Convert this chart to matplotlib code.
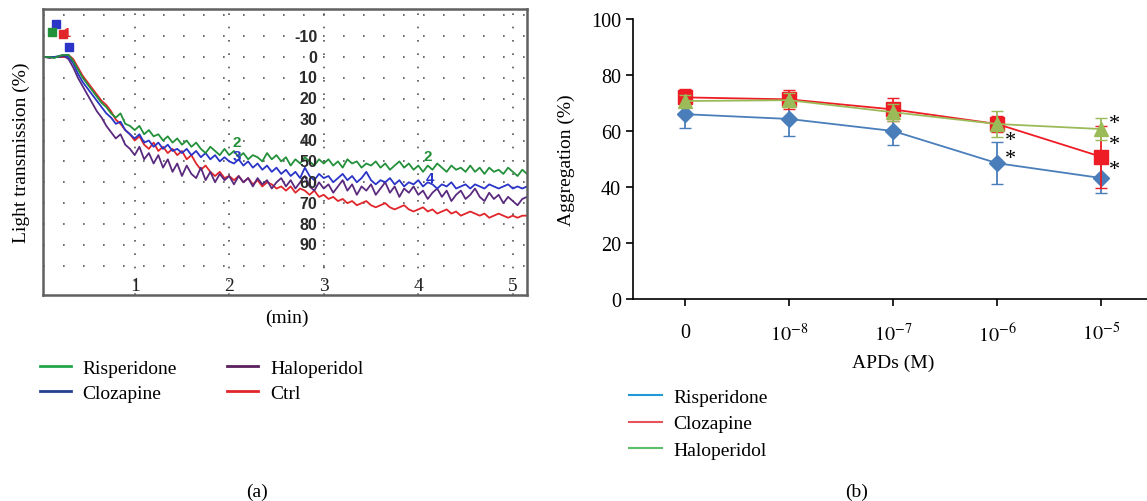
import numpy as np
import matplotlib
matplotlib.use('Agg')
import matplotlib.pyplot as plt
from matplotlib.lines import Line2D

plt.rcParams['font.family'] = 'Liberation Serif'
plt.rcParams['mathtext.fontset'] = 'stix'

# ---- panel (a): aggregometer traces, light transmission (%) vs time (min)
t_min = np.round(np.arange(0.05, 5.151, 0.05), 2)

risperidone_trace = [
    0, 0, 0.5, -0.5, -1, -1, 2, 6, 10, 13,
    16, 19, 22, 24, 27, 29, 27, 32, 33, 35,
    33, 37, 35, 38, 37, 40, 38, 41, 39, 42,
    40, 43, 41, 44, 46, 43, 45, 47, 44, 47,
    45, 48, 46, 49, 47, 48, 50, 46, 49, 47,
    50, 48, 52, 49, 51, 48, 50, 52, 49, 51,
    49, 52, 50, 53, 49, 51, 50, 53, 51, 52,
    50, 53, 51, 54, 52, 50, 53, 51, 54, 52,
    55, 52, 54, 51, 53, 55, 52, 54, 53, 55,
    52, 55, 53, 56, 53, 55, 54, 56, 53, 55,
    57, 54, 56]
clozapine_trace = [
    0, 0, 0, -0.5, -1, 0, 3, 8, 12, 15,
    18, 21, 24, 27, 29, 32, 31, 35, 37, 39,
    37, 41, 40, 43, 41, 44, 42, 45, 44, 46,
    44, 47, 45, 48, 46, 49, 47, 50, 48, 50,
    51, 49, 52, 50, 53, 51, 54, 52, 55, 53,
    56, 54, 57, 55, 58, 53, 57, 59, 56, 58,
    57, 60, 58, 56, 59, 57, 60, 58, 55, 59,
    61, 59, 60, 58, 61, 59, 62, 60, 61, 59,
    62, 60, 61, 63, 61, 62, 60, 63, 62, 61,
    63, 61, 62, 63, 61, 62, 63, 62, 61, 63,
    62, 63, 62]
haloperidol_trace = [
    0, 0.5, 0, 0, -0.5, 1, 5, 10, 14, 18,
    22, 26, 29, 33, 36, 39, 37, 42, 44, 47,
    43, 49, 46, 51, 47, 53, 49, 55, 51, 57,
    52, 56, 58, 53, 59, 55, 60, 56, 59, 57,
    61, 57, 60, 58, 62, 58, 61, 59, 63, 60,
    58, 62, 59, 63, 60, 57, 62, 64, 60, 63,
    61, 65, 62, 59, 64, 61, 66, 62, 64, 61,
    66, 63, 60, 65, 62, 67, 63, 65, 62, 66,
    64, 68, 65, 63, 67, 64, 69, 66, 64, 68,
    66, 63, 67, 69, 65, 68, 66, 70, 67, 69,
    71, 68, 67]
ctrl_trace = [
    0, 0, 0, 0, 0, -1, 1, 5, 9, 12,
    15, 18, 21, 23, 26, 30, 32, 35, 37, 40,
    38, 42, 44, 41, 45, 43, 46, 44, 47, 45,
    49, 47, 51, 54, 52, 55, 57, 55, 58, 57,
    59, 57, 60, 58, 61, 59, 62, 60, 61, 63,
    62, 64, 62, 65, 63, 64, 66, 64, 67, 66,
    68, 67, 69, 68, 70, 69, 71, 70, 69, 71,
    72, 71, 70, 72, 73, 72, 71, 73, 74, 73,
    72, 74, 73, 75, 74, 73, 75, 74, 76, 75,
    74, 75, 76, 75, 77, 76, 75, 76, 77, 76,
    77, 76, 76]

trace_names = ['Risperidone', 'Clozapine', 'Haloperidol', 'Ctrl']
trace_colors = ['#23903a', '#2a35c8', '#5a2a7e', '#e0262b']
legend_a_colors = ['#22a64a', '#24418f', '#5b1f5e', '#e0262b']

# start-of-run markers (time, transmission)
start_marks_t = [0.17, 0.12, 0.24, 0.31]
start_marks_v = [-16, -12, -11, -5]
start_marks_c = ['#2a35c8', '#23903a', '#e0262b', '#2a35c8']

# trace number labels (time, transmission, text, colour)
trace_tags = [(2.08, 40.5, '2', '#23903a'), (2.08, 47.5, '3', '#2a35c8'),
              (4.1, 47.5, '2', '#23903a'), (4.12, 58, '4', '#2a35c8')]

scale_ticks = [-10, 0, 10, 20, 30, 40, 50, 60, 70, 80, 90]
minute_ticks = [1, 2, 3, 4, 5]

# ---- panel (b): aggregation (%) vs APD concentration
conc_labels = ['0', r'$10^{-8}$', r'$10^{-7}$', r'$10^{-6}$', r'$10^{-5}$']
ris_mean = [66, 64.3, 60, 48.5, 43.2]
ris_err = [5, 6, 5, 7.6, 5.4]
clo_mean = [72, 71.3, 67.7, 62.5, 50.8]
clo_err = [3, 3.5, 4, 3, 11]
hal_mean = [70.7, 71, 66.7, 62.5, 60.7]
hal_err = [2, 2.5, 3, 4.5, 4]

fig = plt.figure(figsize=(11.47, 5.02), dpi=100)

# ----------------- (a)
ax1 = fig.add_axes([43 / 1147, 206 / 502, 484 / 1147, 286 / 502])
for name, vals, col in [('Ctrl', ctrl_trace, trace_colors[3]),
                        ('Haloperidol', haloperidol_trace, trace_colors[2]),
                        ('Clozapine', clozapine_trace, trace_colors[1]),
                        ('Risperidone', risperidone_trace, trace_colors[0])]:
    ax1.plot(t_min, vals, color=col, lw=1.3)
for tt, vv, cc in zip(start_marks_t, start_marks_v, start_marks_c):
    ax1.plot(tt, vv, 's', color=cc, ms=6)
ax1.text(0.28, -11.5, '1', color='#e0262b', fontsize=9, fontweight='bold',
         family='Liberation Sans', ha='center', va='center')
for tt, vv, s, cc in trace_tags:
    ax1.text(tt, vv, s, color=cc, fontsize=11, fontweight='bold',
             family='Liberation Sans', ha='center', va='center')

ax1.set_xlim(0.03, 5.15)
ax1.set_ylim(114, -23)
ax1.set_xticks(minute_ticks)
ax1.set_yticks(list(range(-20, 101, 10)))
ax1.tick_params(length=0, labelbottom=False, labelleft=False)
ax1.grid(True, axis='y', color='#555555', lw=1.2, linestyle=(0, (1, 11)))
ax1.grid(True, axis='x', color='#555555', lw=1.2, linestyle=(0, (1, 7)))
for v in scale_ticks:
    ax1.text(2.93, v, str(v), fontsize=11.5, fontweight='bold', color='#2a2a2a',
             family='Liberation Sans', ha='right', va='center')
for m in minute_ticks:
    ax1.text(m, 109.5, str(m), fontsize=14, ha='center', va='center', color='#222222')
for sp in ax1.spines.values():
    sp.set_color('#606060')
    sp.set_linewidth(1.8)
ax1.set_ylabel('Light transmission (%)', fontsize=14)
ax1.yaxis.set_label_coords(-13 / 484, 0.5)
fig.text(287 / 1147, 1 - 318 / 502, '(min)', fontsize=14, ha='center', va='center')

handles_a = [Line2D([], [], color=c, lw=2) for c in legend_a_colors]
fig.legend(handles_a, trace_names, ncol=2, frameon=False, fontsize=14,
           loc='upper left', bbox_to_anchor=(22 / 1147, 1 - 343 / 502),
           handlelength=1.6, handletextpad=0.6, columnspacing=2.6,
           labelspacing=0.35)
fig.text(257 / 1147, 1 - 492 / 502, '(a)', fontsize=14, ha='center', va='center')

# ----------------- (b)
ax2 = fig.add_axes([633 / 1147, 202 / 502, 514 / 1147, 280 / 502])
xi = np.arange(len(conc_labels))
ax2.errorbar(xi, ris_mean, yerr=ris_err, color='#4a7ebb', marker='D', ms=8,
             lw=1.3, capsize=4, elinewidth=1.3, zorder=3)
ax2.errorbar(xi, clo_mean, yerr=clo_err, color='#ee1c24', marker='s', ms=10,
             lw=1.3, capsize=4, elinewidth=1.3, zorder=4)
ax2.errorbar(xi, hal_mean, yerr=hal_err, color='#9bbb59', marker='^', ms=10,
             lw=1.3, capsize=4, elinewidth=1.3, zorder=5)

# significance asterisks, offset (points) from the data points
stars = [(3, clo_mean[3], -12), (3, ris_mean[3], 3.5),
         (4, hal_mean[4], 4), (4, clo_mean[4], 8.5), (4, ris_mean[4], 6.5)]
for i, v, dy in stars:
    ax2.annotate('*', (i, v), xytext=(9.5, dy), textcoords='offset points',
                 fontsize=16, ha='center', va='center')

ax2.set_xlim(-0.5, 4.44)
ax2.set_ylim(0, 100)
ax2.set_yticks([0, 20, 40, 60, 80, 100])
ax2.set_xticks(xi)
ax2.set_xticklabels(conc_labels)
ax2.tick_params(direction='out', length=5, width=1.2, labelsize=14.5)
ax2.tick_params(axis='x', pad=12)
ax2.spines['top'].set_visible(False)
ax2.spines['right'].set_visible(False)
ax2.spines['left'].set_linewidth(1.2)
ax2.spines['bottom'].set_linewidth(1.2)
ax2.set_ylabel('Aggregation (%)', fontsize=14)
ax2.yaxis.set_label_coords(-58 / 514, 0.5)
ax2.set_xlabel('APDs (M)', fontsize=14)
ax2.xaxis.set_label_coords((893 - 633) / 514, -55 / 280)

handles_b = [Line2D([], [], color=c, lw=1.5) for c in ['#1f9ad6', '#e8525a', '#5cbf6a']]
fig.legend(handles_b, ['Risperidone', 'Clozapine', 'Haloperidol'], frameon=False,
           fontsize=14, loc='upper left', bbox_to_anchor=(611 / 1147, 1 - 372 / 502),
           handlelength=1.7, handletextpad=0.6, labelspacing=0.45)
fig.text(857 / 1147, 1 - 492 / 502, '(b)', fontsize=14, ha='center', va='center')

fig.savefig('out.png', dpi=100)
